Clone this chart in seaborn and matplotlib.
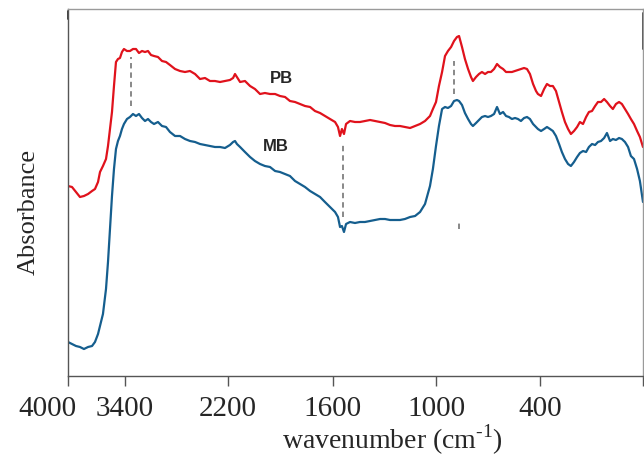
import numpy as np
import pandas as pd
import seaborn as sns
import matplotlib
matplotlib.use("Agg")
import matplotlib.pyplot as plt
from matplotlib.transforms import ScaledTranslation

# FTIR spectra of the two samples (absorbance in arbitrary units)
wavenumber = [
    4000, 3958, 3916, 3874, 3832, 3789, 3747, 3716, 3684, 3663, 3632, 3600, 3579, 3558, 3537, 3516, 3495, 3474, 3453, 3432, 3411,
    3377, 3342, 3307, 3272, 3237, 3202, 3167, 3132, 3097, 3062, 3016, 2969, 2922, 2876, 2817, 2759, 2701, 2643, 2584, 2526, 2468, 2410, 2352, 2293, 2235,
    2189, 2171, 2160, 2149, 2131, 2103, 2074, 2046, 2017, 1989, 1960, 1931, 1903, 1874, 1846, 1817, 1789, 1760, 1731, 1703, 1674, 1646, 1617,
    1588, 1571, 1559, 1548, 1536, 1524, 1501, 1472, 1443, 1414, 1384, 1355, 1326, 1297, 1268, 1239, 1210, 1181, 1151, 1122, 1093, 1064, 1035, 1018, 1000,
    983, 965, 948, 931, 913, 896, 879, 867, 850, 833, 815, 798, 787, 769, 752, 735, 717, 700, 683, 665, 648, 631, 613, 596, 579, 562, 544, 527, 510, 492, 475, 458, 440, 423, 412,
    396, 384, 373, 361, 350, 338, 326, 315, 303, 291, 280, 268, 256, 245, 233, 221, 210, 198, 186, 175, 163, 151, 140, 128, 117, 105, 93, 82, 70, 58, 47, 35, 23, 12, 0,
]

pb_absorbance = [
    1.90, 1.89, 1.84, 1.79, 1.80, 1.82, 1.85, 1.87, 1.94, 2.04, 2.10, 2.17, 2.30, 2.47, 2.64, 2.90, 3.14, 3.17, 3.18, 3.24, 3.27,
    3.25, 3.25, 3.27, 3.27, 3.23, 3.25, 3.24, 3.25, 3.21, 3.20, 3.19, 3.15, 3.14, 3.11, 3.07, 3.05, 3.04, 3.05, 3.02, 2.97, 2.98, 2.95, 2.95, 2.94, 2.95,
    2.96, 2.98, 3.02, 2.99, 2.94, 2.95, 2.90, 2.87, 2.82, 2.83, 2.82, 2.82, 2.80, 2.79, 2.75, 2.74, 2.72, 2.70, 2.69, 2.65, 2.63, 2.60, 2.57,
    2.54, 2.49, 2.40, 2.47, 2.42, 2.52, 2.55, 2.54, 2.54, 2.55, 2.56, 2.55, 2.54, 2.53, 2.51, 2.50, 2.50, 2.49, 2.48, 2.50, 2.52, 2.55, 2.60, 2.67, 2.74,
    2.90, 3.04, 3.20, 3.25, 3.29, 3.35, 3.39, 3.40, 3.29, 3.17, 3.07, 2.99, 2.95, 2.99, 3.02, 3.04, 3.02, 3.04, 3.04, 3.07, 3.12, 3.09, 3.07, 3.04, 3.04, 3.04, 3.05, 3.06, 3.07, 3.08, 3.07, 3.02, 2.92, 2.85, 2.82,
    2.80, 2.87, 2.92, 2.90, 2.90, 2.85, 2.74, 2.64, 2.54, 2.47, 2.42, 2.45, 2.49, 2.54, 2.52, 2.59, 2.64, 2.65, 2.70, 2.74, 2.74, 2.77, 2.74, 2.70, 2.67, 2.72, 2.74, 2.72, 2.67, 2.62, 2.57, 2.52, 2.45, 2.39, 2.29,
]

mb_absorbance = [
    0.34, 0.32, 0.30, 0.29, 0.27, 0.29, 0.30, 0.34, 0.42, 0.50, 0.62, 0.87, 1.14, 1.47, 1.80, 2.07, 2.27, 2.35, 2.40, 2.47, 2.52,
    2.57, 2.59, 2.62, 2.60, 2.62, 2.58, 2.55, 2.57, 2.54, 2.52, 2.54, 2.50, 2.49, 2.44, 2.40, 2.40, 2.37, 2.35, 2.34, 2.32, 2.31, 2.30, 2.29, 2.29, 2.28,
    2.31, 2.34, 2.35, 2.32, 2.29, 2.24, 2.19, 2.15, 2.12, 2.10, 2.09, 2.05, 2.04, 2.02, 2.00, 1.95, 1.92, 1.89, 1.85, 1.82, 1.79, 1.74, 1.69,
    1.64, 1.59, 1.49, 1.50, 1.44, 1.52, 1.54, 1.53, 1.54, 1.54, 1.55, 1.56, 1.57, 1.57, 1.56, 1.56, 1.56, 1.57, 1.59, 1.60, 1.64, 1.72, 1.90, 2.07, 2.30,
    2.50, 2.67, 2.69, 2.68, 2.70, 2.75, 2.76, 2.75, 2.71, 2.63, 2.57, 2.52, 2.50, 2.53, 2.56, 2.59, 2.60, 2.59, 2.60, 2.62, 2.69, 2.62, 2.64, 2.60, 2.59, 2.57, 2.58, 2.57, 2.55, 2.58, 2.59, 2.57, 2.52, 2.49, 2.47,
    2.45, 2.47, 2.49, 2.47, 2.45, 2.40, 2.32, 2.24, 2.17, 2.12, 2.10, 2.14, 2.19, 2.23, 2.25, 2.24, 2.29, 2.32, 2.31, 2.34, 2.35, 2.38, 2.43, 2.35, 2.37, 2.36, 2.38, 2.37, 2.34, 2.29, 2.20, 2.17, 2.07, 1.95, 1.74,
]

# band markers joining the two spectra
band_wavenumber = [3330, 1540, 896, 867]
band_low = [2.70, 1.59, 2.82, 1.47]
band_high = [3.19, 2.32, 3.15, 1.53]

tick_values = [4000, 3400, 2200, 1600, 1000, 400, 0]
tick_labels = ["4000", "3400", "2200", "1600", "1000", "400", ""]
# distance of each tick from the right end of the axis (segmented wavenumber scale)
tick_offset = [575, 518, 415, 310, 207, 103, 0]

scale_wn = tick_values[::-1]
scale_pos = tick_offset[::-1]


def to_axis(w):
    return np.interp(np.asarray(w, dtype=float), scale_wn, scale_pos)


def from_axis(p):
    return np.interp(np.asarray(p, dtype=float), scale_pos, scale_wn)


sns.set_style("white")
plt.rcParams["font.family"] = ["Liberation Serif", "DejaVu Serif"]
plt.rcParams["mathtext.fontset"] = "custom"
plt.rcParams["mathtext.rm"] = "Liberation Serif"

df = pd.concat([
    pd.DataFrame({"wavenumber": wavenumber, "absorbance": pb_absorbance, "sample": "PB"}),
    pd.DataFrame({"wavenumber": wavenumber, "absorbance": mb_absorbance, "sample": "MB"}),
])

fig = plt.figure(figsize=(6.44, 4.56), dpi=100)
ax = fig.add_axes([68 / 644, 79 / 456, 575 / 644, 367 / 456])
ax.set_xscale("function", functions=(to_axis, from_axis))

sns.lineplot(data=df, x="wavenumber", y="absorbance", hue="sample",
             palette={"PB": "#E0121C", "MB": "#155E8E"}, estimator=None,
             sort=False, legend=False, linewidth=1.6, ax=ax)

ax.vlines(band_wavenumber, band_low, band_high, colors="#7f7f7f",
          linestyles=(0, (3, 2.2)), linewidth=1.3)

ax.text(1897, 2.98, "PB", ha="center", va="center", fontsize=12,
        fontweight="bold", family="Liberation Sans")
ax.text(1926, 2.30, "MB", ha="center", va="center", fontsize=12,
        fontweight="bold", family="Liberation Sans")

ax.set_xlim(4000, 0)
ax.set_ylim(0, 3.67)
ax.set_xticks(tick_values)
ax.set_xticklabels(tick_labels, fontsize=21)
ax.set_yticks([])
ax.tick_params(axis="x", direction="out", length=7, width=1, color="#555555", pad=7, bottom=True)
first = ax.xaxis.get_ticklabels()[0]
first.set_transform(first.get_transform() + ScaledTranslation(-0.21, 0, fig.dpi_scale_trans))

for side, sp in ax.spines.items():
    sp.set_linewidth(1.0)
    sp.set_color("#555555" if side in ("left", "bottom") else "#9a9a9a")

# darker frame segments near the top corners
ax.plot([0, 0], [0.972, 0.995], transform=ax.transAxes, color="#333333",
        linewidth=1.3, clip_on=False)
ax.plot([1, 1], [0.89, 0.99], transform=ax.transAxes, color="#444444",
        linewidth=1.3, clip_on=False)

ax.set_xlabel(r"wavenumber (cm$^{\text{-1}}$)", fontsize=20)
ax.xaxis.set_label_coords(0.5635, -0.124)
ax.set_ylabel("Absorbance", fontsize=19)
ax.yaxis.set_label_coords(-0.05, 0.45)

fig.savefig("out.png", dpi=100)
